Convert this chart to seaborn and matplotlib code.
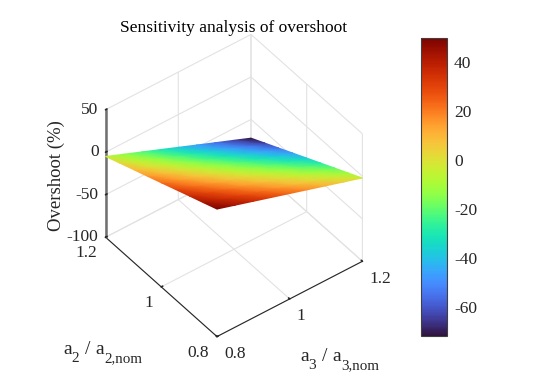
import numpy as np
import matplotlib
matplotlib.use("Agg")
import matplotlib.pyplot as plt
from mpl_toolkits.mplot3d import proj3d
import seaborn as sns

# values
a3_vals = [0.80, 0.85, 0.90, 0.95, 1.00, 1.05, 1.10, 1.15, 1.20]
a2_vals = [0.80, 0.85, 0.90, 0.95, 1.00, 1.05, 1.10, 1.15, 1.20]
overshoot = [
    [50.0, 43.5, 37.0, 30.5, 24.0, 17.5, 11.0, 4.5, -2.0],
    [43.1, 36.4, 29.7, 22.9, 16.2, 9.4, 2.7, -4.0, -10.8],
    [36.3, 29.3, 22.3, 15.3, 8.4, 1.4, -5.6, -12.5, -19.5],
    [29.4, 22.2, 15.0, 7.8, 0.6, -6.6, -13.8, -21.0, -28.2],
    [22.5, 15.1, 7.6, 0.2, -7.3, -14.7, -22.1, -29.6, -37.0],
    [15.6, 8.0, 0.3, -7.4, -15.0, -22.7, -30.4, -38.1, -45.7],
    [8.8, 0.8, -7.1, -15.0, -22.9, -30.8, -38.7, -46.6, -54.5],
    [1.9, -6.3, -14.4, -22.5, -30.7, -38.8, -46.9, -55.1, -63.2],
    [-5.0, -13.4, -21.8, -30.1, -38.5, -46.9, -55.3, -63.6, -72.0],
]
a_ticks = [0.8, 1.0, 1.2]
a_ticklabels = ["0.8", "1", "1.2"]
z_ticks = [-100, -50, 0, 50]
z_ticklabels = ["-100", "-50", "0", "50"]
cbar_ticks = [-60, -40, -20, 0, 20, 40]

sns.set_theme(style="white", font="Liberation Serif")
plt.rcParams["axes.unicode_minus"] = False

W, H = 543, 381
text_col = "#262626"
fig = plt.figure(figsize=(W / 100, H / 100), dpi=100)

ax = fig.add_axes([78.4 / W, 39.9 / H, 303 / W, 303 / H], projection="3d", proj_type="ortho")
ax.view_init(elev=42.8, azim=-127.3)
ax.set_box_aspect((182, 183, 173))
ax.patch.set_alpha(0)
ax.set_xlim(0.8, 1.2)
ax.set_ylim(0.8, 1.2)
ax.set_zlim(-100, 50)
ax.set_xticks(a_ticks, [])
ax.set_yticks(a_ticks, [])
ax.set_zticks(z_ticks, [])

for axis in (ax.xaxis, ax.yaxis, ax.zaxis):
    axis.set_pane_color((1, 1, 1, 0))
    axis.pane.set_edgecolor("#e0e0e0")
    axis.pane.set_linewidth(0.8)
    axis._axinfo["grid"].update(color="#e2e2e2", linewidth=0.8)
    axis._axinfo["tick"].update(inward_factor=0.0, outward_factor=0.12)
    axis.line.set_color("#262626")
    axis.line.set_linewidth(0.8)
ax.zaxis.line.set_color("#707070")
ax.zaxis.line.set_linewidth(1.8)
ax.grid(True)

# smooth surface: 2d overlay in the projected coordinates of the 3d axes
M = ax.get_proj()
X, Y = np.meshgrid(a3_vals, a2_vals)
Z = np.array(overshoot)
px, py, _ = proj3d.proj_transform(X.ravel(), Y.ravel(), Z.ravel(), M)
px = np.reshape(px, X.shape)
py = np.reshape(py, X.shape)

over = fig.add_axes([0, 0, 1, 1], facecolor="none")
over.set_axis_off()
turbo = sns.color_palette("turbo", as_cmap=True)
mesh = over.pcolormesh(px, py, Z, shading="gouraud", cmap=turbo, vmin=-71.8, vmax=49.8,
                       transform=ax.transData)
over.set_xlim(0, 1)
over.set_ylim(0, 1)


# tick labels sit at the projected tick, with the reference's offset
def tick_label(x, y, z, label, dx, dy, ha):
    p = proj3d.proj_transform(x, y, z, M)
    over.annotate(label, xy=(p[0], p[1]), xycoords=ax.transData, xytext=(dx, dy),
                  textcoords="offset pixels", ha=ha, va="center", fontsize=12.5, color=text_col)


for t, lab in zip(a_ticks, a_ticklabels):
    tick_label(t, 0.8, -100, lab, 7, -17.5, "left")
    tick_label(0.8, t, -100, lab, -8.5, -16, "right")
for t, lab in zip(z_ticks, z_ticklabels):
    tick_label(0.8, 1.2, t, lab, -7, 0, "right")

cax = fig.add_axes([421 / W, 45 / H, 26 / W, 298 / H])
cb = fig.colorbar(mesh, cax=cax, ticks=cbar_ticks)
cb.ax.tick_params(direction="in", length=3, width=0.8, labelsize=12.5, colors=text_col, pad=5)
cb.outline.set_edgecolor("#404040")
cb.outline.set_linewidth(0.8)

fig.text(234 / W, 1 - 28.5 / H, "Sensitivity analysis of overshoot", ha="center", va="center",
         fontsize=12.5, color="black")
fig.text(56 / W, 1 - 176 / H, "Overshoot (%)", rotation=90, ha="center", va="center",
         fontsize=13.5, color=text_col)


# axis names with subscripts as big as in the reference
def px_text(x, y, s, size):
    fig.text(x / W, 1 - y / H, s, ha="left", va="baseline", fontsize=size, color=text_col)


px_text(63, 354, "a", 14)
px_text(71.5, 362, "2", 11)
px_text(85, 354, "/", 14)
px_text(95, 354, "a", 14)
px_text(104, 362, "2,nom", 10.8)

px_text(300, 361, "a", 14)
px_text(308.5, 369, "3", 11)
px_text(322, 361, "/", 14)
px_text(332, 361, "a", 14)
px_text(341, 369, "3,nom", 10.8)

fig.savefig("out.png", dpi=100)
